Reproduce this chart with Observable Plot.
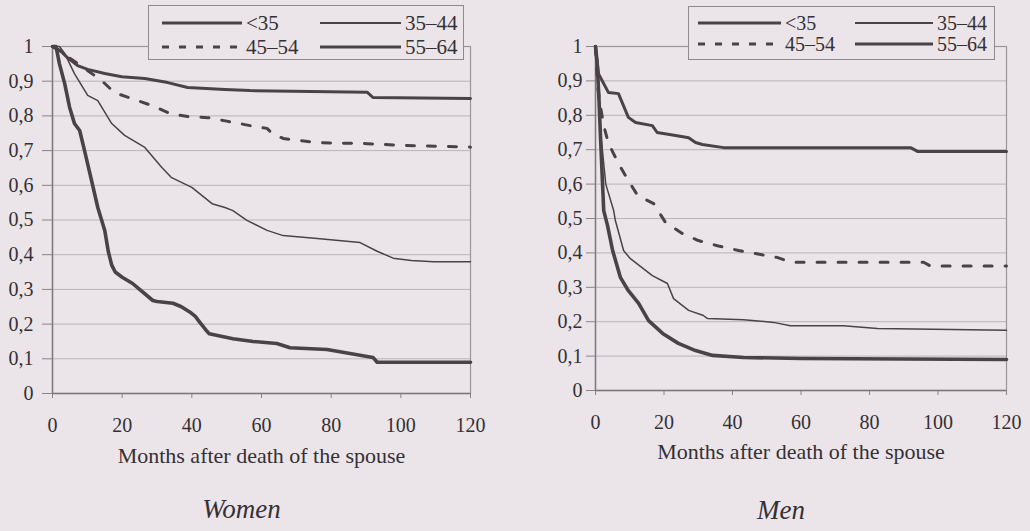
<!DOCTYPE html>
<html>
<head>
<meta charset="utf-8">
<script src="https://cdn.jsdelivr.net/npm/d3@7"></script>
<script src="https://cdn.jsdelivr.net/npm/@observablehq/plot@0.6"></script>
<style>
  html, body { margin: 0; padding: 0; background: #ebe5ea; }
  #wrap { position: relative; width: 1030px; height: 531px; overflow: hidden; }
  .panel { position: absolute; top: 0; width: 515px; height: 531px; }
  svg { overflow: visible; }
  svg text { font-family: "Liberation Serif", "Times New Roman", serif; }
</style>
</head>
<body>
<div id="wrap">
  <div class="panel" id="women" style="left:0"></div>
  <div class="panel" id="men" style="left:515px"></div>
</div>
<script>
// ---------- data ----------
const seriesNames = ["<35", "35–44", "45–54", "55–64"];
const xTicks = [0, 20, 40, 60, 80, 100, 120];
const yTicks = [0, 0.1, 0.2, 0.3, 0.4, 0.5, 0.6, 0.7, 0.8, 0.9, 1];
const xLabel = "Months after death of the spouse";
const panelTitles = ["Women", "Men"];

// Women
const womenLt35Months = [0, 1, 2, 3.5, 4.9, 6.3, 7.8, 9.2, 11.2, 13, 15, 16, 17, 18, 20, 23, 25, 28.8, 30, 34.6, 37, 39.4, 41, 42.3, 44.3, 45, 51.8, 57.6, 64.4, 68.2, 78.8, 85.4, 92, 93.2, 120];
const womenLt35Surv   = [1, 1, 0.95, 0.893, 0.825, 0.778, 0.758, 0.70, 0.614, 0.536, 0.47, 0.41, 0.37, 0.35, 0.335, 0.317, 0.30, 0.268, 0.265, 0.26, 0.25, 0.235, 0.222, 0.205, 0.18, 0.172, 0.158, 0.15, 0.144, 0.132, 0.127, 0.115, 0.104, 0.09, 0.09];
const women3544Months = [0, 2, 3.5, 6.3, 10.1, 13, 17, 20.7, 26.5, 31.4, 34.2, 40, 45.8, 49.5, 51.8, 55.8, 61.6, 66.2, 76, 88.3, 93.2, 97.8, 103, 109.4, 120];
const women3544Surv   = [1, 1, 0.98, 0.922, 0.859, 0.844, 0.778, 0.744, 0.709, 0.651, 0.622, 0.594, 0.547, 0.536, 0.527, 0.499, 0.47, 0.455, 0.447, 0.435, 0.41, 0.39, 0.383, 0.38, 0.38];
const women4554Months = [0, 2.6, 9.2, 14.1, 17.8, 23.6, 28.5, 33.7, 38.8, 44.6, 50, 56.7, 61.6, 63, 66.2, 76, 90.4, 100, 120];
const women4554Surv   = [1, 0.983, 0.937, 0.902, 0.867, 0.847, 0.83, 0.807, 0.798, 0.795, 0.785, 0.772, 0.764, 0.75, 0.735, 0.723, 0.72, 0.715, 0.71];
const women5564Months = [0, 2, 4.3, 7.2, 10.1, 15, 19.9, 26.5, 33.1, 38.8, 49.5, 56.7, 90.4, 92, 120];
const women5564Surv   = [1, 0.99, 0.968, 0.945, 0.934, 0.922, 0.913, 0.908, 0.896, 0.882, 0.876, 0.873, 0.868, 0.853, 0.85];

// Men
const menLt35Months = [0, 0.5, 1, 1.5, 2.4, 3.5, 5, 7.3, 9.6, 12.6, 15.5, 19.6, 24.2, 29.2, 34.2, 43.2, 60, 120];
const menLt35Surv   = [1, 0.95, 0.85, 0.727, 0.523, 0.48, 0.407, 0.328, 0.29, 0.253, 0.203, 0.166, 0.137, 0.116, 0.102, 0.096, 0.093, 0.09];
const men3544Months = [0, 0.5, 1.5, 3, 5.3, 5.8, 8.2, 10, 11.7, 16.6, 21, 22.8, 27.2, 31.5, 32.7, 43.2, 52, 56.9, 72.4, 82.3, 120];
const men3544Surv   = [1, 0.96, 0.75, 0.6, 0.523, 0.494, 0.407, 0.385, 0.372, 0.334, 0.311, 0.267, 0.233, 0.218, 0.209, 0.206, 0.198, 0.188, 0.188, 0.18, 0.175];
const men4554Months = [0, 0.6, 1.5, 2.4, 3.8, 6.7, 9.6, 12.3, 17, 20.4, 25.4, 30, 35.9, 41.8, 46.7, 53, 57, 95.8, 97.8, 120];
const men4554Surv   = [1, 0.887, 0.823, 0.77, 0.718, 0.66, 0.61, 0.567, 0.543, 0.489, 0.456, 0.436, 0.42, 0.407, 0.398, 0.387, 0.373, 0.373, 0.362, 0.362];
const men5564Months = [0, 0.3, 0.9, 3.8, 6.7, 9.6, 11.7, 16.6, 18, 23.4, 27.2, 29.2, 31.2, 37.4, 92, 94, 120];
const men5564Surv   = [1, 0.97, 0.92, 0.866, 0.863, 0.794, 0.779, 0.77, 0.75, 0.741, 0.735, 0.721, 0.715, 0.706, 0.706, 0.695, 0.695];

// ---------- styles ----------
const ink = "#4a4346";
const textInk = "#343034";
const styles = {
  "<35":   {strokeWidth: 3.6, dash: null},
  "35–44": {strokeWidth: 1.5, dash: null},
  "45–54": {strokeWidth: 3, dash: "8,13"},
  "55–64": {strokeWidth: 3, dash: null}
};
const font = "Liberation Serif";

function rows(months, surv) { return months.map((t, i) => ({t, s: surv[i]})); }

const women = [rows(womenLt35Months, womenLt35Surv), rows(women3544Months, women3544Surv), rows(women4554Months, women4554Surv), rows(women5564Months, women5564Surv)];
const men = [rows(menLt35Months, menLt35Surv), rows(men3544Months, men3544Surv), rows(men4554Months, men4554Surv), rows(men5564Months, men5564Surv)];

const fmt = d => d === 0 ? "0" : d === 1 ? "1" : d.toFixed(1).replace(".", ",");

function panel(series, opts) {
  const marks = [
    Plot.ruleY(yTicks.filter(d => d > 0 && d < 1), {stroke: "#b9b3b8", strokeWidth: 1}),
    Plot.frame({stroke: "#9a949a", strokeWidth: 1.2}),
    Plot.axisY({ticks: yTicks, tickFormat: fmt, tickSize: opts.yTickSize, tickPadding: opts.yTickPad, fontSize: 20, fontFamily: font, fill: textInk, stroke: "#8a848a", label: null}),
    Plot.axisX({ticks: xTicks, tickSize: 5, tickPadding: 19, fontSize: 20, fontFamily: font, fill: textInk, stroke: "#8a848a", label: null}),
    Plot.ruleX([0], {stroke: "#7d777c", strokeWidth: 1.4}),
    Plot.ruleY([0], {stroke: "#7d777c", strokeWidth: 1.4})
  ];
  series.forEach((data, i) => {
    const st = styles[seriesNames[i]];
    marks.push(Plot.line(data, {x: "t", y: "s", stroke: ink, strokeWidth: st.strokeWidth, strokeDasharray: st.dash, strokeLinejoin: "round"}));
  });
  marks.push(Plot.text([xLabel], {frameAnchor: "bottom", dy: opts.labelDy, fontSize: 22, fill: textInk, fontFamily: font}));
  marks.push(Plot.text([opts.title], {frameAnchor: "bottom", dy: opts.titleDy, dx: -20, fontSize: 27, fontStyle: "italic", fill: textInk, fontFamily: font}));
  return Plot.plot({
    width: 515, height: 531,
    marginLeft: opts.ml, marginRight: opts.mr, marginTop: 46, marginBottom: opts.mb,
    x: {domain: [0, 120]},
    y: {domain: [0, 1]},
    style: {background: "transparent", fontFamily: font, color: textInk},
    marks
  });
}

function legend(box) {
  const svg = d3.create("svg").attr("width", box.w).attr("height", box.h)
    .style("position", "absolute").style("left", box.x + "px").style("top", box.y + "px").style("overflow", "visible");
  svg.append("rect").attr("x", 0.5).attr("y", 0.5).attr("width", box.w - 1).attr("height", box.h - 1)
    .attr("fill", "#ebe5ea").attr("stroke", "#8f898e").attr("stroke-width", 1);
  seriesNames.forEach((name, i) => {
    const col = i % 2, row = Math.floor(i / 2);
    const x0 = box.cols[col][0], x1 = box.cols[col][1];
    const y = box.rows[row];
    const st = styles[name];
    svg.append("line").attr("x1", x0).attr("x2", x1).attr("y1", y).attr("y2", y)
      .attr("stroke", ink).attr("stroke-width", name === "35–44" ? 1.8 : 3.2)
      .attr("stroke-dasharray", st.dash ? "7,10" : null);
    svg.append("text").attr("x", x1 + 4).attr("y", y).attr("dy", "0.35em")
      .attr("font-family", font).attr("font-size", box.fs).attr("fill", textInk).text(name);
  });
  return svg.node();
}

const w = document.getElementById("women");
w.appendChild(panel(women, {title: panelTitles[0], ml: 52, mr: 45, mb: 138, yTickSize: 10, yTickPad: 9, labelDy: 69, titleDy: 124}));
w.appendChild(legend({x: 148, y: 5, w: 316, h: 55, cols: [[14, 94], [172, 253]], rows: [18, 42], fs: 21}));

const m = document.getElementById("men");
m.appendChild(panel(men, {title: panelTitles[1], ml: 80, mr: 24, mb: 141, yTickSize: 9, yTickPad: 4, labelDy: 68, titleDy: 128}));
m.appendChild(legend({x: 173, y: 6, w: 307, h: 54, cols: [[10, 93], [167, 245]], rows: [17, 38], fs: 20}));

document.querySelectorAll(".panel > svg:first-child").forEach(s => { s.style.position = "absolute"; s.style.left = "0"; s.style.top = "0"; });
</script>
</body>
</html>
